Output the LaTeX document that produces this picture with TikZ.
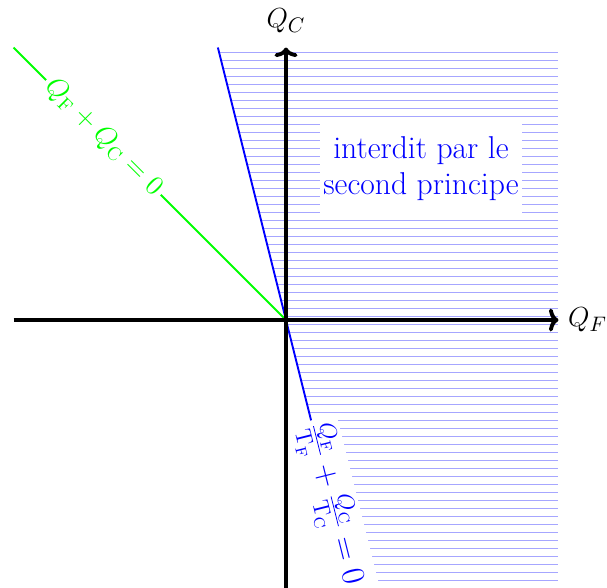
\documentclass[tikz,border=0pt]{standalone}
\usetikzlibrary{arrows.meta}
\begin{document}
\begin{tikzpicture}[
  axis/.style={line width=2pt,-{To[length=5pt,width=12pt]}},
  hatch/.style={blue!35,line width=0.45pt},
  lbl/.style={font=\fontsize{15}{18}\selectfont},
  slabel/.style={fill=white,sloped,inner sep=2pt}
]
\useasboundingbox (-5.248,-4.899) rectangle (5.890,5.872);
\coordinate (O) at (0,0);
\coordinate (xl) at (-5,0);
\coordinate (xr) at (5,0);
\coordinate (yb) at (0,-5);
\coordinate (yt) at (0,5);
\coordinate (g) at (-5,5);
\coordinate (bt) at (-1.25,5);
\coordinate (bb) at (1.25,-5);
\coordinate (hr) at (5,5);
\coordinate (hb) at (5,-5);
\begin{scope}
  \clip (bt) -- (hr) -- (hb) -- (bb) -- cycle;
  \foreach \k in {0,...,68} \draw[hatch] (-2,4.917-\k*0.1468) -- (5,4.917-\k*0.1468);
\end{scope}
\node[fill=white, text=blue, font=\fontsize{16.5}{18.5}\selectfont, align=center, inner xsep=2pt, inner ysep=7pt] (forbid) at (2.477,2.78) {interdit par le\\second principe};
\draw[green,line width=1pt] (g) -- node[pos=0.33, slabel, text=green, font=\Large] (gl) {$Q_\mathrm{F}+Q_\mathrm{C}=0$} (O);
\draw[blue,line width=1pt] (bt) -- node[pos=0.838, slabel, text=blue, font=\fontsize{16.5}{19}\selectfont] (bl) {$\frac{Q_\mathrm{F}}{\mathrm{T_F}}+\frac{Q_\mathrm{C}}{\mathrm{T_C}}=0$} (bb);
\draw[axis] (xl) -- (xr);
\node[right=1.5pt, lbl] (qf) at (xr) {$Q_F$};
\draw[axis] (yb) -- (yt);
\node[above=4pt, lbl] (qc) at (yt) {$Q_C$};
\end{tikzpicture}
\end{document}
